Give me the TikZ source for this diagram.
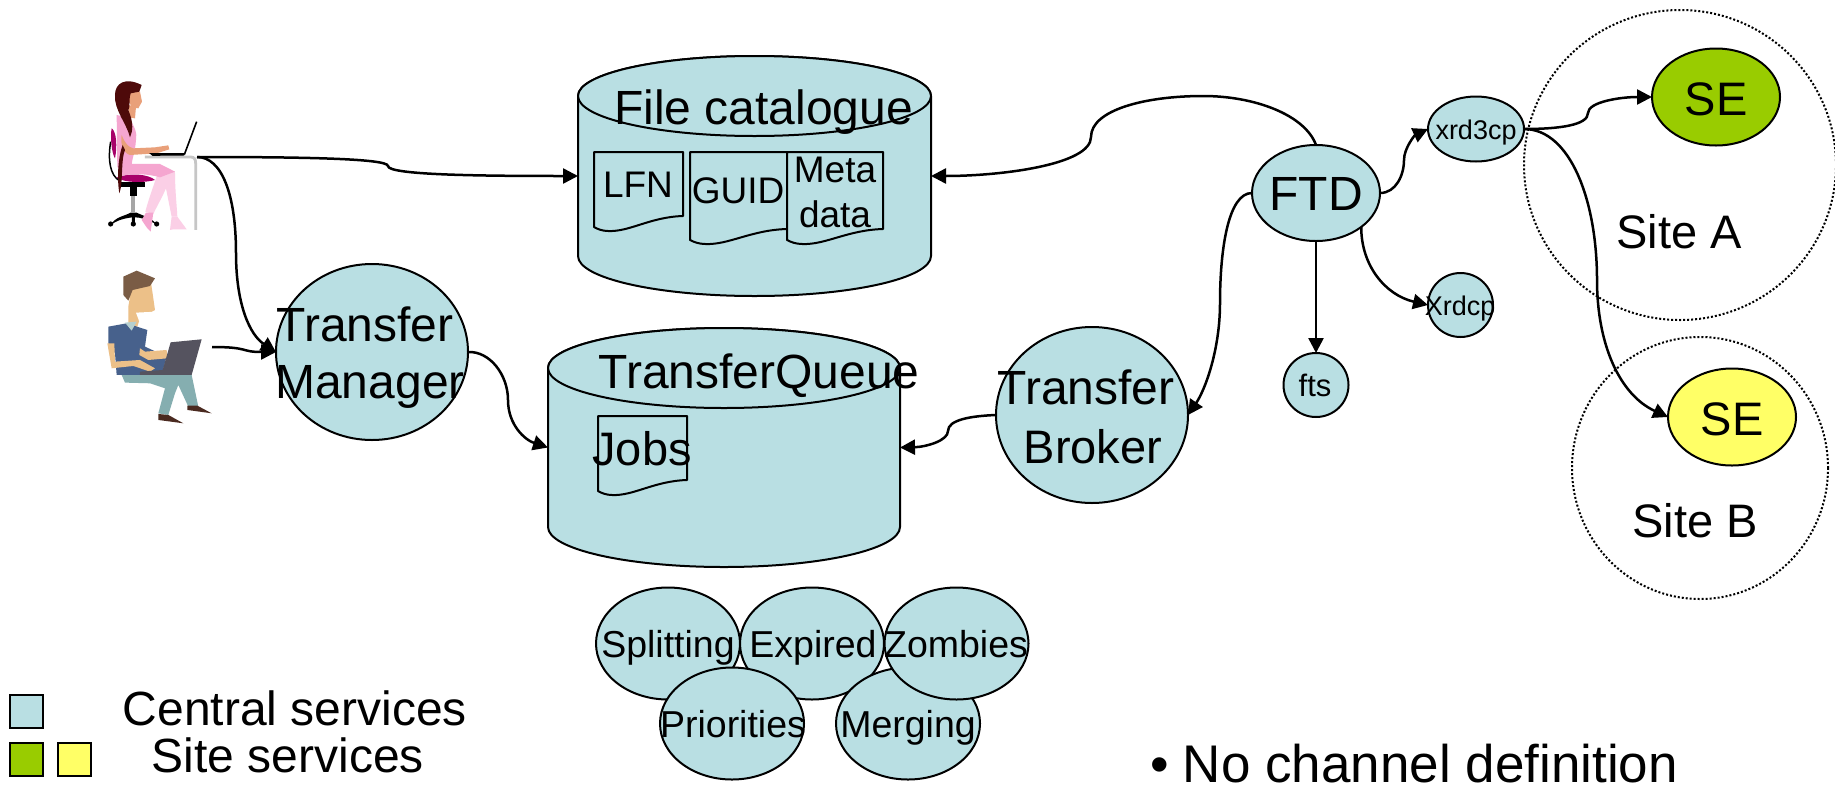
\documentclass[tikz,border=0pt]{standalone}
\usepackage{fontspec}
\setmainfont{Liberation Sans}
\usetikzlibrary{arrows.meta,shapes.geometric}
\definecolor{svc}{HTML}{B9DFE3}
\definecolor{sitegreen}{HTML}{99CC00}
\definecolor{siteyellow}{HTML}{FFFF66}
\definecolor{wskin}{HTML}{E9A07A}
\definecolor{wpink}{HTML}{F5A6D0}
\definecolor{wleg}{HTML}{FBCFE6}
\definecolor{whair}{HTML}{4E0A0A}
\definecolor{wseat}{HTML}{A8006A}
\definecolor{mskin}{HTML}{ECC088}
\definecolor{mhair}{HTML}{7A5C45}
\definecolor{mshirt}{HTML}{47618C}
\definecolor{mcollar}{HTML}{B5CFCF}
\definecolor{mpants}{HTML}{85AEB0}
\definecolor{mshoe}{HTML}{4A2A20}
\definecolor{mlaptop}{HTML}{55535F}
\newcommand\fs[1]{\fontsize{#1}{#1}\selectfont}
\newcommand\docu[4]{%
  \pgfmathsetmacro\xr{#1+#2}\pgfmathsetmacro\yr{#3+#4}%
  \pgfmathsetmacro\cax{#1+.63*#2}\pgfmathsetmacro\cay{#3+#4+1}%
  \pgfmathsetmacro\cbx{#1+.40*#2}\pgfmathsetmacro\cby{#3+#4+16}%
  \pgfmathsetmacro\mx{#1+.16*#2}\pgfmathsetmacro\my{#3+#4+15}%
  \pgfmathsetmacro\ccx{#1+.09*#2}\pgfmathsetmacro\ccy{#3+#4+15}%
  \pgfmathsetmacro\cdx{#1+.04*#2}\pgfmathsetmacro\cdy{#3+#4+13}%
  \pgfmathsetmacro\yl{#3+#4+11}%
  \draw[blu] (#1,#3) -- (\xr,#3) -- (\xr,\yr) .. controls (\cax,\cay) and (\cbx,\cby) .. (\mx,\my)
    .. controls (\ccx,\ccy) and (\cdx,\cdy) .. (#1,\yl) -- cycle;}
\tikzset{
  x=1pt,y=-1pt,
  blu/.style={draw=black,fill=svc,line width=2pt,line join=round},
  ell/.style={ellipse,draw=black,line width=2pt,inner sep=0pt,outer sep=0pt},
  svcell/.style={ell,fill=svc},
  txt/.style={anchor=base,inner sep=0pt,outer sep=0pt,text=black,font=\fs{47}},
  lrg/.style={txt,font=\fs{48}},
  mid/.style={txt,font=\fs{37.5}},
  sml/.style={txt,font=\fs{27}},
  cylbox/.style={rectangle,minimum width=#1,minimum height=240pt,inner sep=0pt,outer sep=0pt},
  conn/.style={draw=black,line width=2.5pt,-{Triangle[length=15pt,width=15pt]}},
  site/.style={ellipse,draw=black,line width=2pt,dash pattern=on 2pt off 2pt,inner sep=0pt,outer sep=0pt},
  legend/.style={rectangle,draw=black,line width=2pt,minimum width=33pt,minimum height=33pt,inner sep=0pt,outer sep=0pt}
}
\begin{document}
\begin{tikzpicture}
\clip (0,0) rectangle (1835,785);
\useasboundingbox (0,0) rectangle (1835,785);
\fill[white] (0,0) rectangle (1835,785);

% woman at a desk
\begin{scope}[shift={(60,60)},x=0.3333pt,y=-0.3333pt]
\draw[black,line width=1.5pt] (152,245) .. controls (143,300) and (150,345) .. (178,362);
\fill[black] (150,497) .. controls (165,470) and (195,468) .. (212,458) -- (230,458) .. controls (250,468) and (280,475) .. (292,497) -- (280,488) .. controls (260,478) and (240,472) .. (225,472) -- (225,490) -- (216,490) -- (216,472) .. controls (195,475) and (170,480) .. (150,497) -- cycle;
\fill[black] (152,492) circle[radius=2.6pt] (220,492) circle[radius=2.6pt] (290,492) circle[radius=2.6pt];
\fill[gray!70] (214,405) rectangle (226,456);
\fill[black] (210,365) rectangle (232,408);
\fill[black] (182,365) rectangle (254,382);
\fill[wseat] (155,205) .. controls (170,215) and (172,260) .. (165,295) .. controls (155,280) and (150,230) .. (155,205) -- cycle;
\fill[wseat] (170,352) .. controls (210,338) and (265,342) .. (285,360) .. controls (260,368) and (190,370) .. (170,352) -- cycle;
% legs
\fill[wleg] (300,320) -- (345,335) .. controls (345,390) and (350,430) .. (352,470) -- (335,470) -- (318,385) .. controls (305,415) and (290,440) .. (280,462) -- (256,455) .. controls (265,420) and (280,380) .. (300,320) -- cycle;
\fill[wpink] (175,312) -- (300,312) -- (345,335) -- (300,352) .. controls (260,340) and (210,340) .. (175,350) -- cycle;
% shoes
\fill[wpink] (258,458) -- (280,458) -- (272,515) -- (262,505) -- (245,480) -- cycle;
\fill[wleg] (335,470) -- (352,470) -- (380,508) -- (340,508) -- (330,510) -- cycle;
% torso, arm, head
\fill[wpink] (170,165) -- (205,172) .. controls (225,200) and (232,220) .. (228,240) .. controls (225,280) and (215,300) .. (215,315) -- (172,322) -- cycle;
\fill[wskin] (185,225) .. controls (195,250) and (205,262) .. (220,265) -- (285,262) -- (325,256) -- (328,268) -- (290,280) -- (210,285) .. controls (190,280) and (180,250) .. (185,225) -- cycle;
\fill[wskin] (205,135) -- (228,140) -- (225,175) -- (205,172) -- cycle;
\fill[wskin] (212,90) -- (240,95) -- (246,125) -- (235,145) -- (215,142) -- (205,120) -- cycle;
\fill[whair] (165,105) .. controls (165,70) and (195,50) .. (245,75) -- (238,95) -- (212,100) .. controls (205,125) and (212,140) .. (205,150) .. controls (222,190) and (218,215) .. (210,232) .. controls (200,190) and (162,150) .. (165,105) -- cycle;
\fill[whair] (188,255) .. controls (175,290) and (170,350) .. (178,400) .. controls (190,370) and (182,300) .. (195,270) -- cycle;
% desk, laptop
\draw[gray!45,line width=2.8pt] (255,291) -- (392,291) .. controls (403,291) and (407,298) .. (407,310) -- (407,510);
\draw[black,line width=1pt,fill=black] (272,281) -- (372,281) -- (372,285) -- (278,286) -- cycle;
\draw[black,line width=1.6pt] (373,284) -- (410,185);
\end{scope}

% man with a laptop
\begin{scope}[shift={(60,60)},x=0.3333pt,y=-0.3333pt]
\fill[mpants] (185,945) -- (360,935) -- (395,945) -- (415,1040) -- (385,1040) -- (355,975) -- (345,1000) -- (325,1065) -- (295,1060) -- (315,985) -- (270,970) -- (195,968) -- cycle;
\fill[mshoe] (295,1062) -- (325,1065) -- (370,1090) -- (295,1080) -- cycle;
\fill[mshoe] (382,1037) -- (412,1037) -- (455,1060) -- (382,1050) -- cycle;
\fill[mskin] (215,680) -- (272,660) -- (285,750) -- (240,775) -- (232,800) -- (205,800) -- (205,740) -- cycle;
\fill[white] (228,758) -- (290,755) -- (265,778) -- (238,785) -- cycle;
\fill[mhair] (190,650) -- (230,632) -- (285,655) -- (270,678) -- (218,690) -- (205,722) -- (190,705) -- cycle;
\fill[mshirt] (145,800) -- (200,790) -- (262,810) -- (255,860) -- (320,890) -- (305,945) -- (170,945) -- (165,880) -- (145,850) -- cycle;
\fill[mcollar] (195,788) -- (230,785) -- (215,812) -- cycle;
\fill[mskin] (142,850) -- (163,850) -- (165,905) -- (240,900) -- (285,925) -- (270,935) -- (220,918) -- (155,925) -- cycle;
\fill[mskin] (240,865) -- (255,875) -- (320,870) -- (322,895) -- (265,900) -- (238,885) -- cycle;
\fill[mlaptop] (332,847) -- (425,838) -- (395,945) -- (240,945) -- (240,935) -- (308,930) -- cycle;
\end{scope}

% site circles
\node[site,minimum width=312pt,minimum height=310pt] (sitea) at (1680,165) {};
\node[site,minimum width=256pt,minimum height=262pt] (siteb) at (1700,468) {};

% cylinders
\node[cylbox=353pt] (fc) at (754.5,176) {};
\node[cylbox=352pt] (tq) at (724,447.5) {};
\draw[blu] (578,96) -- (578,256) arc[start angle=180,end angle=360,x radius=176.5pt,y radius=40pt] -- (931,96) arc[start angle=0,end angle=180,x radius=176.5pt,y radius=40pt] -- cycle;
\draw[blu] (754.5,96) ellipse[x radius=176.5pt,y radius=40pt];
\draw[blu] (548,368) -- (548,527) arc[start angle=180,end angle=360,x radius=176pt,y radius=40pt] -- (900,368) arc[start angle=0,end angle=180,x radius=176pt,y radius=40pt] -- cycle;
\draw[blu] (724,368) ellipse[x radius=176pt,y radius=40pt];

% documents
\docu{594}{89}{152}{64}
\docu{690}{97}{152}{77}
\docu{787}{96}{152}{77}
\docu{598}{89}{416}{64}

% service ellipses
\node[svcell,minimum width=192pt,minimum height=176pt] (tm) at (372,352) {};
\node[svcell,minimum width=192pt,minimum height=176pt] (tb) at (1092,415) {};
\node[svcell,minimum width=128pt,minimum height=96pt] (ftd) at (1316,193) {};
\node[svcell,minimum width=96pt,minimum height=65pt] (xrd3) at (1476,129) {};
\node[svcell,minimum width=65pt,minimum height=64pt] (xrdcp) at (1460.5,305) {};
\node[svcell,minimum width=65pt,minimum height=64pt] (fts) at (1316,385) {};
\node[ell,fill=sitegreen,minimum width=128pt,minimum height=97pt] (sea) at (1716,97) {};
\node[ell,fill=siteyellow,minimum width=128pt,minimum height=97pt] (seb) at (1732,417) {};
\node[svcell,minimum width=144pt,minimum height=112pt] (spl) at (668,643.5) {};
\node[svcell,minimum width=144pt,minimum height=112pt] (exp) at (812,643.5) {};
\node[svcell,minimum width=144pt,minimum height=112pt] (pri) at (732,723.5) {};
\node[svcell,minimum width=144pt,minimum height=112pt] (mer) at (908,723.5) {};
\node[svcell,minimum width=144pt,minimum height=112pt] (zom) at (956.5,643.5) {};

% free ends of connectors
\coordinate (womandesk) at (197,157);
\coordinate (manlaptop) at (212,347);

% connectors
\draw[conn] (womandesk) .. controls (290,157) and (388,158) .. (388,166) .. controls (388,175) and (480,176) .. (fc.west);
\draw[conn] (womandesk) .. controls (222,157) and (236,195) .. (236,253) .. controls (236,305) and (250,335) .. (tm.west);
\draw[conn] (manlaptop) .. controls (250,347) and (240,352) .. (tm.west);
\draw[conn] (tm.east) .. controls (490,351) and (508,375) .. (508,400) .. controls (508,425) and (525,440) .. (tq.west);
\draw[conn] (tb.west) .. controls (970,416) and (948,420) .. (948,431) .. controls (948,441) and (925,447) .. (tq.east);
\draw[conn] (ftd.west) .. controls (1228,193) and (1220,250) .. (1220,303) .. controls (1220,350) and (1205,390) .. (tb.east);
\draw[conn] (ftd.north) .. controls (1305,115) and (1255,96) .. (1203,96) .. controls (1145,96) and (1091,110) .. (1091,137) .. controls (1091,165) and (1000,176) .. (fc.east);
\draw[conn] (ftd.east) .. controls (1396,193) and (1404,175) .. (1404,160) .. controls (1404,148) and (1415,135) .. (xrd3.west);
\draw[conn] (ftd.south) -- (fts.north);
\draw[conn] (ftd.south east) .. controls (1361,265) and (1385,295) .. (xrdcp.west);
\draw[conn] (xrd3.east) .. controls (1560,129) and (1588,125) .. (1588,113) .. controls (1588,102) and (1620,97) .. (sea.west);
\draw[conn] (xrd3.east) .. controls (1570,129) and (1597,200) .. (1597,280) .. controls (1597,345) and (1620,395) .. (seb.west);

% legend
\node[legend,fill=svc] (lgc) at (26.5,711.5) {};
\node[legend,fill=sitegreen] (lgg) at (26.5,759.5) {};
\node[legend,fill=siteyellow] (lgy) at (74.5,759.5) {};

% texts
\node[lrg] (t1) at (763.5,124) {File catalogue};
\node[txt,font=\fs{37}] (t2) at (638,197) {LFN};
\node[txt,font=\fs{37}] (t3) at (738,203) {GUID};
\node[txt,font=\fs{37}] (t4) at (835,182) {Meta};
\node[txt,font=\fs{37}] (t5) at (835,227) {data};
\node[lrg] (t6) at (759,388) {TransferQueue};
\node[txt] (t7) at (642,465) {Jobs};
\node[lrg] (t8) at (365,341) {Transfer};
\node[lrg] (t9) at (370,398) {Manager};
\node[lrg] (t10) at (1086,404) {Transfer};
\node[txt] (t11) at (1093,463) {Broker};
\node[lrg] (t12) at (1316,210.5) {FTD};
\node[sml] (t13) at (1476,139) {xrd3cp};
\node[sml] (t14) at (1460,315) {Xrdcp};
\node[txt,font=\fs{31}] (t15) at (1315,396) {fts};
\node[txt] (t16) at (1716,115) {SE};
\node[txt] (t17) at (1732,435) {SE};
\node[txt] (t18) at (1679,248) {Site A};
\node[txt] (t19) at (1695,537) {Site B};
\node[mid] (t20) at (668,657) {Splitting};
\node[mid] (t21) at (813,657) {Expired};
\node[mid] (t22) at (956,657) {Zombies};
\node[mid] (t23) at (733,737) {Priorities};
\node[mid] (t24) at (908,737) {Merging};
\node[lrg] (t25) at (295,725) {Central services};
\node[lrg] (t26) at (288,772.5) {Site services};
\node[txt,anchor=base west,font=\fs{53}] (t27) at (1150.7,782) {•\hspace{13.7pt}No channel definition};
\end{tikzpicture}
\end{document}
